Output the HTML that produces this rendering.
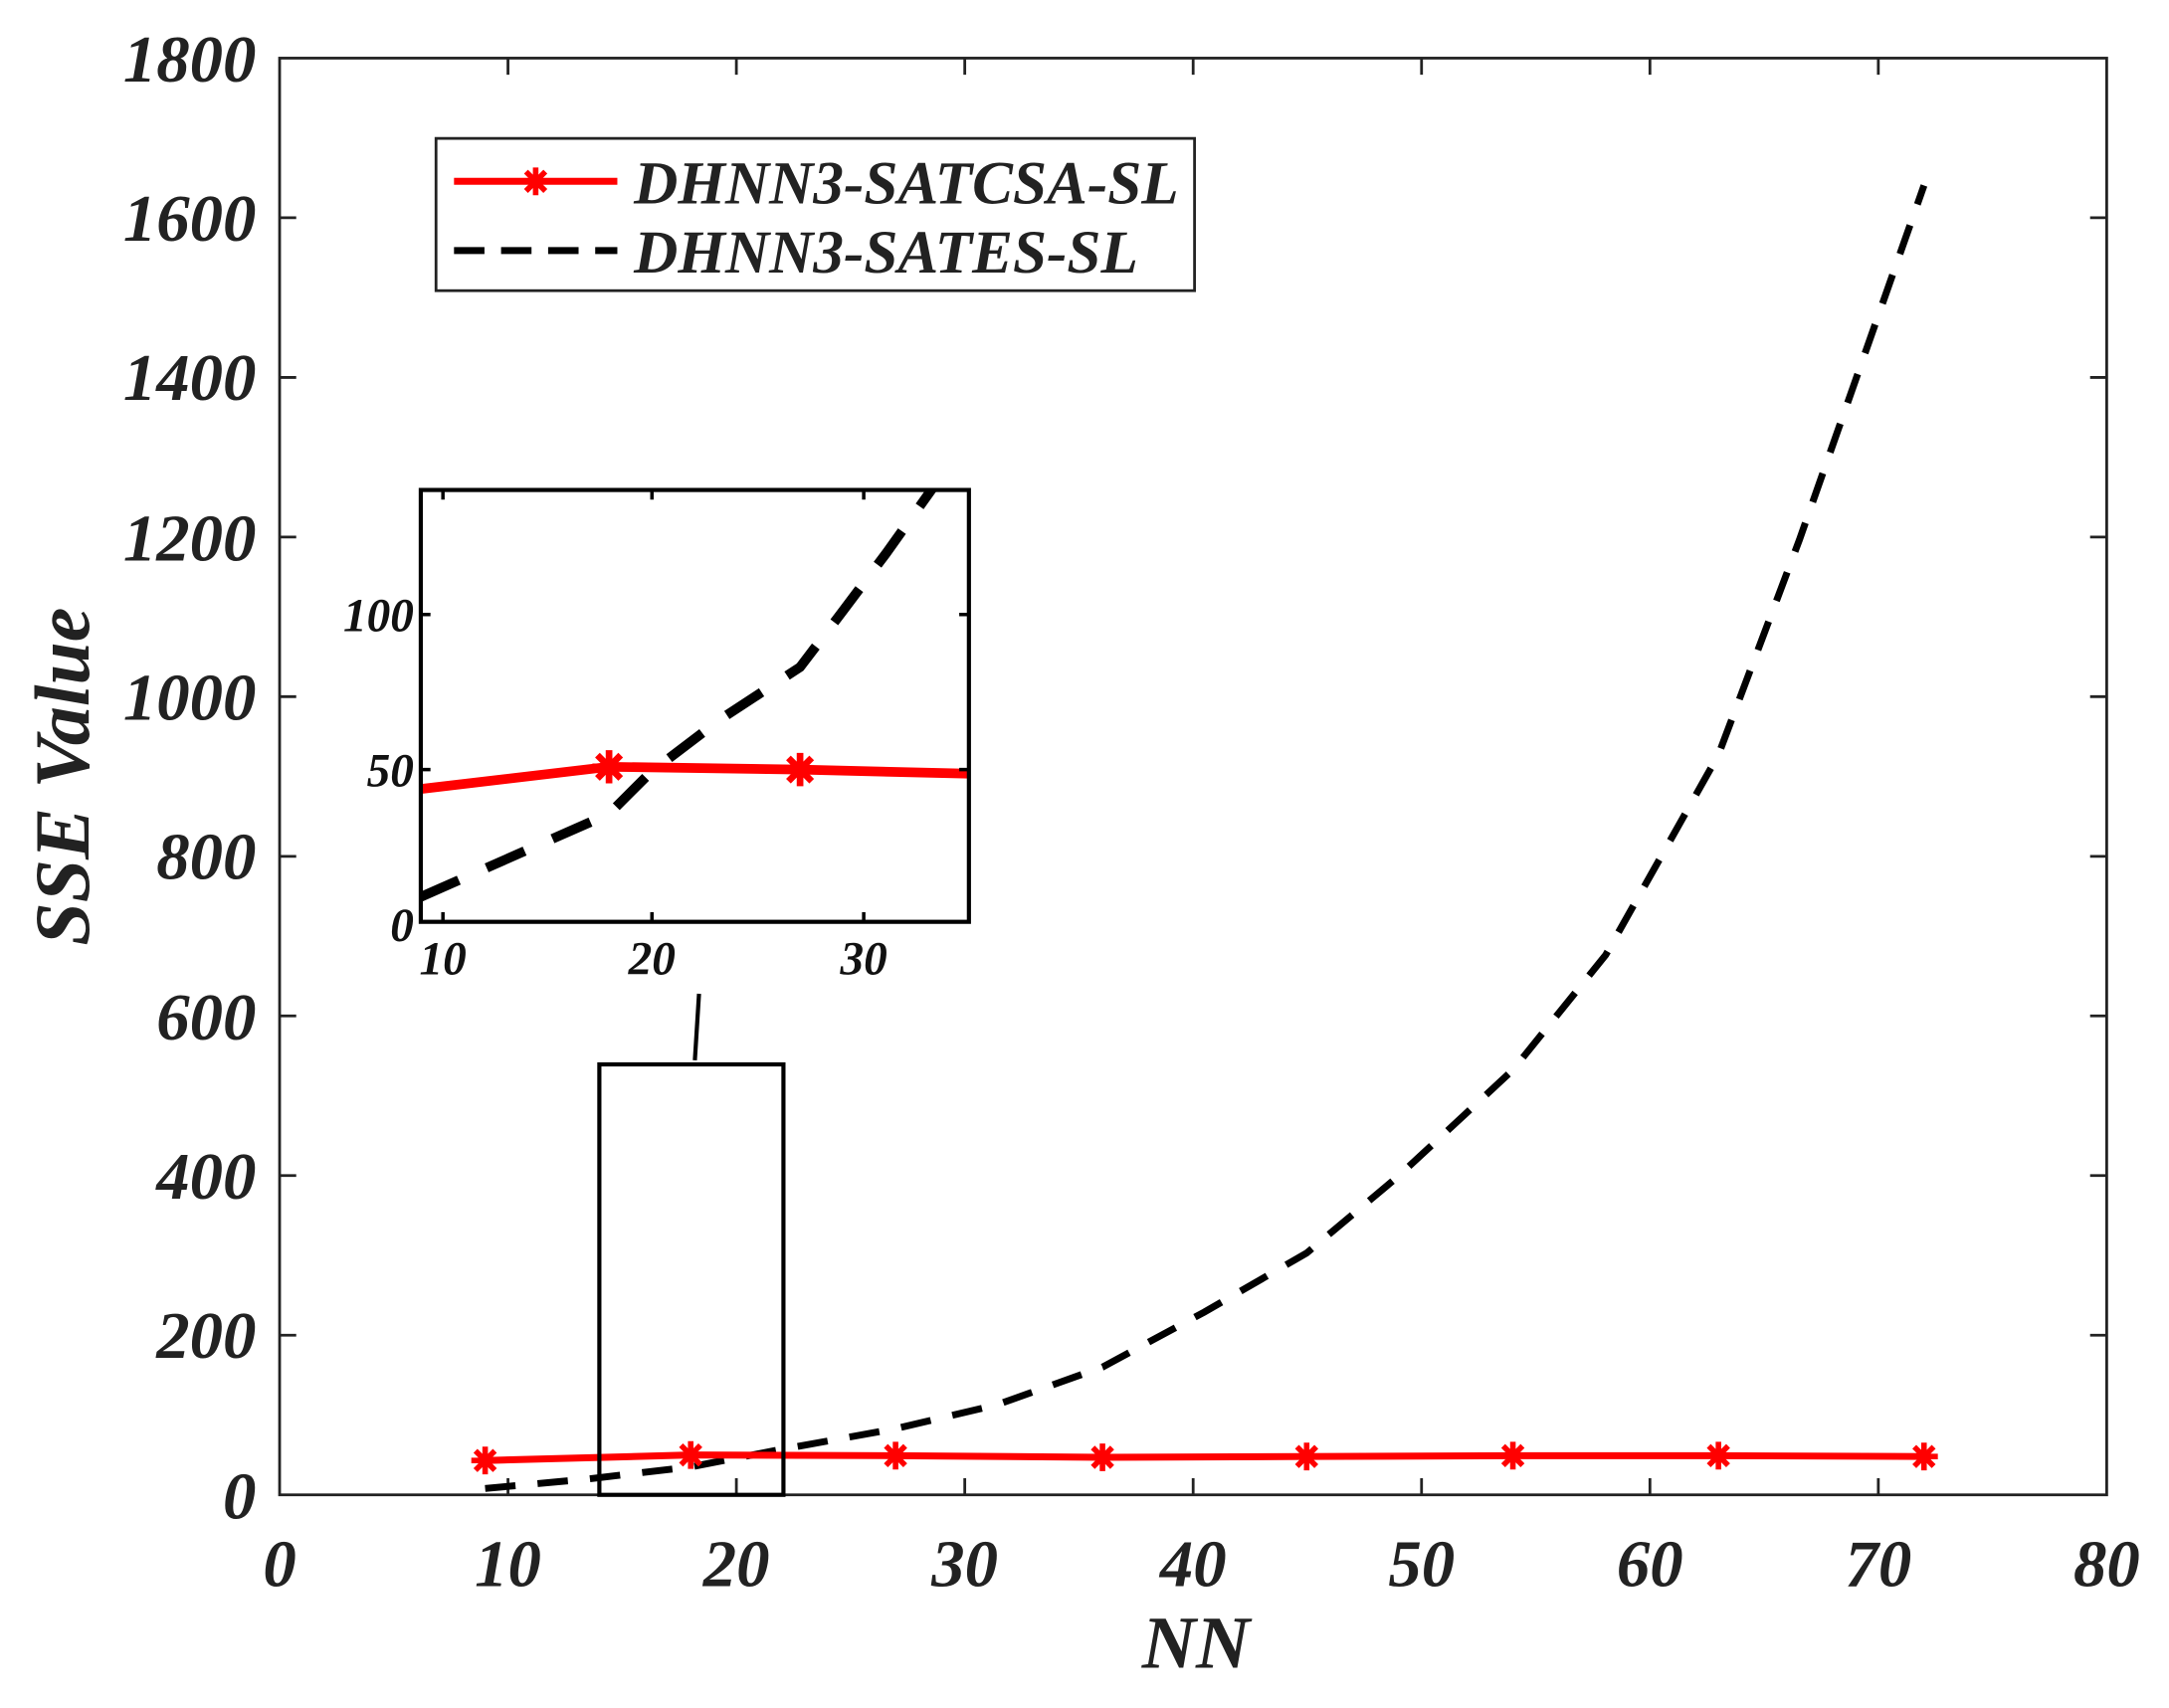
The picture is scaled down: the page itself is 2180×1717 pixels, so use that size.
<!DOCTYPE html>
<html><head><style>html,body{margin:0;padding:0;background:#fff}svg{display:block}</style></head>
<body>
<svg width="2180" height="1717" viewBox="0 0 1567 1234" preserveAspectRatio="none" xmlns="http://www.w3.org/2000/svg" font-family="Liberation Serif, serif" font-weight="bold" font-style="italic">
<defs>
<clipPath id="ic"><rect x="304" y="354" width="396" height="312"/></clipPath>
<g id="star"><path d="M-10,0H10M0,-10V10M-7,-7L7,7M-7,7L7,-7" stroke="#f00" stroke-width="4"/></g>
</defs>
<rect x="202" y="42" width="1320" height="1038" fill="none" stroke="#222" stroke-width="2"/>
<g stroke="#222" stroke-width="2">
<path d="M367,1080v-12M532,1080v-12M697,1080v-12M862,1080v-12M1027,1080v-12M1192,1080v-12M1357,1080v-12
M367,42v12M532,42v12M697,42v12M862,42v12M1027,42v12M1192,42v12M1357,42v12
M202,964.7h12M202,849.3h12M202,734h12M202,618.7h12M202,503.3h12M202,388h12M202,272.7h12M202,157.3h12
M1522,964.7h-12M1522,849.3h-12M1522,734h-12M1522,618.7h-12M1522,503.3h-12M1522,388h-12M1522,272.7h-12M1522,157.3h-12"/>
</g>
<g font-size="48" fill="#222" text-anchor="end">
<text x="185" y="1097">0</text><text x="185" y="981">200</text><text x="185" y="866">400</text><text x="185" y="751">600</text><text x="185" y="635">800</text><text x="185" y="520">1000</text><text x="185" y="405">1200</text><text x="185" y="289">1400</text><text x="185" y="174">1600</text><text x="185" y="59">1800</text>
</g>
<g font-size="48" fill="#222" text-anchor="middle">
<text x="202" y="1146">0</text><text x="367" y="1146">10</text><text x="532" y="1146">20</text><text x="697" y="1146">30</text><text x="862" y="1146">40</text><text x="1027" y="1146">50</text><text x="1192" y="1146">60</text><text x="1357" y="1146">70</text><text x="1522" y="1146">80</text>
<text x="864" y="1205" font-size="54">NN</text>
<text transform="translate(64,561) rotate(-90)" font-size="56">SSE Value</text>
</g>
<polyline points="350.5,1075.4 425,1068.5 499,1059.8 560,1048 647,1032.2 720,1015 796.5,987.7 870,948 944,905.3 1010,850 1093,773 1160,690 1241.5,545.3 1300,390 1390,134" fill="none" stroke="#000" stroke-width="5" stroke-dasharray="22,16"/>
<polyline points="350.5,1055.2 499,1051.2 647,1051.7 796.5,1052.9 944,1052.3 1093,1051.7 1241.5,1051.7 1390,1052.3" fill="none" stroke="#f00" stroke-width="5"/>
<use href="#star" x="350.5" y="1055.2"/><use href="#star" x="499" y="1051.2"/><use href="#star" x="647" y="1051.7"/><use href="#star" x="796.5" y="1052.9"/><use href="#star" x="944" y="1052.3"/><use href="#star" x="1093" y="1051.7"/><use href="#star" x="1241.5" y="1051.7"/><use href="#star" x="1390" y="1052.3"/>
<rect x="433" y="769" width="133" height="311" fill="none" stroke="#000" stroke-width="3"/>
<line x1="505" y1="718" x2="502" y2="766" stroke="#000" stroke-width="3"/>
<rect x="315" y="100" width="548" height="110" fill="#fff" stroke="#222" stroke-width="2"/>
<line x1="328" y1="131" x2="446" y2="131" stroke="#f00" stroke-width="5"/>
<use href="#star" x="387" y="131"/>
<line x1="328" y1="181" x2="446" y2="181" stroke="#000" stroke-width="5" stroke-dasharray="22,12"/>
<g font-size="44" fill="#222"><text x="458" y="147">DHNN3-SATCSA-SL</text><text x="458" y="197">DHNN3-SATES-SL</text></g>
<rect x="304" y="354" width="396" height="312" fill="#fff"/>
<g clip-path="url(#ic)">
<polyline points="304,648 440,588 470,558 520,520 578,482 610,440 640,400 690,330" fill="none" stroke="#000" stroke-width="7" stroke-dasharray="30,22"/>
<polyline points="304,570 440,554 578,556 700,559" fill="none" stroke="#f00" stroke-width="7"/>
</g>
<g transform="translate(440,554) scale(1.2)"><use href="#star"/></g>
<g transform="translate(578,556) scale(1.2)"><use href="#star"/></g>
<rect x="304" y="354" width="396" height="312" fill="none" stroke="#000" stroke-width="3"/>
<g stroke="#000" stroke-width="2.5">
<path d="M320,666v-7M471,666v-7M624,666v-7M320,354v7M471,354v7M624,354v7M304,556h7M304,444h7M700,556h-7M700,444h-7"/>
</g>
<g font-size="34" fill="#111">
<text x="299" y="680" text-anchor="end">0</text><text x="299" y="568" text-anchor="end">50</text><text x="299" y="456" text-anchor="end">100</text>
<text x="320" y="704" text-anchor="middle">10</text><text x="471" y="704" text-anchor="middle">20</text><text x="624" y="704" text-anchor="middle">30</text>
</g>
</svg>
</body></html>
